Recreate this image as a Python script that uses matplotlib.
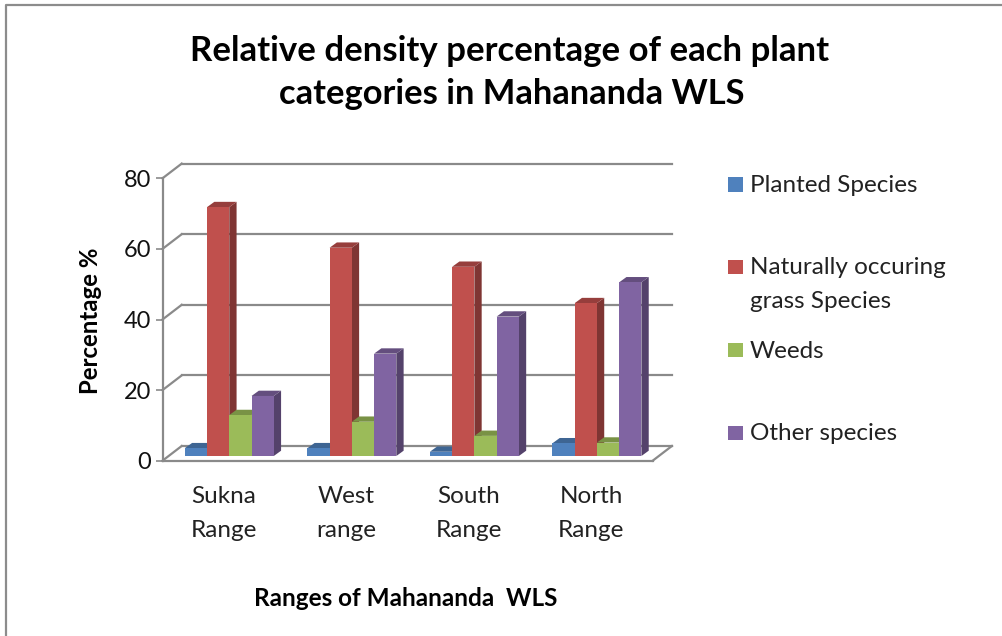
import matplotlib
matplotlib.use("Agg")
import matplotlib.pyplot as plt
from matplotlib.colors import to_rgb
from matplotlib.lines import Line2D
from matplotlib.patches import Rectangle
from matplotlib.transforms import Affine2D, IdentityTransform

plt.rcParams['font.family'] = ['Lato', 'DejaVu Sans']

categories = ["Sukna\nRange", "West\nrange", "South\nRange", "North\nRange"]
planted = [2.2, 2.2, 1.2, 3.6]
natural = [70.5, 59.0, 53.6, 43.3]
weeds = [11.6, 9.7, 5.7, 3.8]
other = [17.0, 29.0, 39.5, 49.2]
series_values = [planted, natural, weeds, other]
colors = ["#4F81BD", "#C0504D", "#9BBB59", "#8064A2"]
y_ticks = [0, 20, 40, 60, 80]

W, H = 1003, 636
GRAY = "#8A8A8A"
PIX = IdentityTransform()
fig = plt.figure(figsize=(W / 100, H / 100), dpi=100, facecolor="white")

def fx(x):
    return x / W

def fy(y):
    return 1 - y / H

L, R, T, B = 162.5, 652.7, 178.3, 460.7
ax = fig.add_axes([fx(L), fy(B), fx(R - L), (B - T) / H])
ax.set_xlim(0, 4)
ax.set_ylim(0, 80)
ax.patch.set_alpha(0)
for s in ("top", "right"):
    ax.spines[s].set_visible(False)
for s in ("left", "bottom"):
    ax.spines[s].set_color(GRAY)
    ax.spines[s].set_linewidth(1.6)

ax.set_yticks(y_ticks)
ax.set_xticks([i + 0.5 for i in range(len(categories))])
ax.set_xticklabels(categories, linespacing=1.72)
ax.tick_params(axis="y", length=5.4, width=1.2, color=GRAY, labelsize=17, pad=3, labelcolor="#111111")
ax.tick_params(axis="x", length=0, labelsize=17.5, pad=18.5, labelcolor="#222222")

def shift(dx, dy):
    return Affine2D().translate(dx, dy)

DEPTH_X, DEPTH_Y = 19.2, 14.7
back = ax.transData + shift(DEPTH_X, DEPTH_Y)

# Back wall gridlines, wall-to-front connectors and the floor's right edge
for v in y_ticks:
    ax.plot([0, 4], [v, v], transform=back, color=GRAY, lw=1.6, clip_on=False, zorder=1)
    p0 = ax.transData.transform((0, v))
    ax.add_line(Line2D([p0[0], p0[0] + DEPTH_X], [p0[1], p0[1] + DEPTH_Y],
                       transform=PIX, color=GRAY, lw=1.6, zorder=1, clip_on=False))
pr = ax.transData.transform((4, 0))
ax.add_line(Line2D([pr[0], pr[0] + DEPTH_X], [pr[1], pr[1] + DEPTH_Y],
                   transform=PIX, color=GRAY, lw=1.6, zorder=1, clip_on=False))

# Bars with faux 3D faces
BAR_W = 22.25 / ((R - L) / 4)
BAR_OX, BAR_OY = 5.5, 4.7
BAR_DX, BAR_DY = 7.3, 5.3
front = ax.transData + shift(BAR_OX, BAR_OY)
rear = ax.transData + shift(BAR_OX + BAR_DX, BAR_OY + BAR_DY)

def dark(c, f):
    return tuple(v * f for v in to_rgb(c))

z = 3
for i in range(len(categories)):
    for k, vals in enumerate(series_values):
        v = vals[i]
        x0 = i + 0.5 + (k - 2) * BAR_W
        x1 = x0 + BAR_W
        # side face
        px0 = front.transform([(x1, 0), (x1, v)])
        px1 = rear.transform([(x1, v), (x1, 0)])
        ax.fill(list(px0[:, 0]) + list(px1[:, 0]), list(px0[:, 1]) + list(px1[:, 1]),
                color=dark(colors[k], 0.66), transform=PIX, lw=0, clip_on=False, zorder=z)
        # top face
        pt0 = front.transform([(x0, v), (x1, v)])
        pt1 = rear.transform([(x1, v), (x0, v)])
        ax.fill(list(pt0[:, 0]) + list(pt1[:, 0]), list(pt0[:, 1]) + list(pt1[:, 1]),
                color=dark(colors[k], 0.78), transform=PIX, lw=0, clip_on=False, zorder=z)
        # front face
        ax.bar(x0, v, width=BAR_W, align="edge", color=colors[k], transform=front,
               clip_on=False, zorder=z, lw=0)
        z += 1
ax.set_xlim(0, 4)
ax.set_ylim(0, 80)

# Titles
fig.text(fx(510), fy(51), "Relative density percentage of each plant", ha="center", va="center",
         fontsize=25, fontweight="bold", color="black")
fig.text(fx(511.5), fy(94), "categories in Mahananda WLS", ha="center", va="center",
         fontsize=24.8, fontweight="bold", color="black")
fig.text(fx(90.5), fy(321), "Percentage %", rotation=90, ha="center", va="center",
         fontsize=17.3, fontweight="bold", color="black")
fig.text(fx(406), fy(598), "Ranges of Mahananda  WLS", ha="center", va="center",
         fontsize=17.5, fontweight="bold", color="black")

# Legend
leg_y = [184.5, 267, 350, 433]
leg_lines = [["Planted Species"], ["Naturally occuring", "grass Species"], ["Weeds"], ["Other species"]]
for c, y, lines in zip(colors, leg_y, leg_lines):
    fig.add_artist(Rectangle((fx(728.3), fy(y + 7.25)), 14.5 / W, 14.5 / H, transform=fig.transFigure,
                             facecolor=c, edgecolor="none"))
    for j, t in enumerate(lines):
        fig.text(fx(750), fy(y + 1 + j * 34), t, ha="left", va="center", fontsize=17.5, color="#222222")

# Outer frame (left and top only are inside the crop)
fig.add_artist(Line2D([fx(6.5), fx(6.5), 1], [0, fy(5), fy(5)], transform=fig.transFigure,
                      color="#8C8C8C", lw=1.6))

fig.savefig("out.png", dpi=100)
